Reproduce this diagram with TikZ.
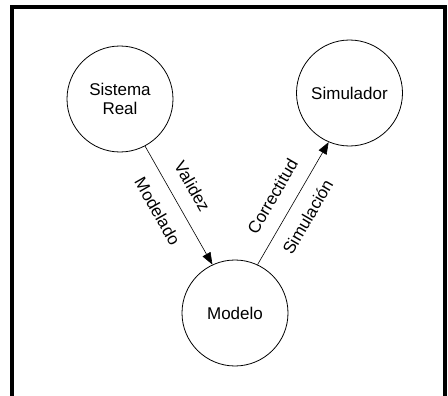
\documentclass[tikz,border=0pt]{standalone}
\usepackage{fontspec}
\setmainfont{Liberation Sans}
\usepackage{tikz}
\usetikzlibrary{arrows.meta,positioning}
\tikzset{
  estado/.style={circle, draw=black, line width=0.8pt, minimum size=106pt, inner sep=0pt, align=center, font=\fontsize{17}{19}\selectfont},
  flow/.style={line width=0.6pt, -{Triangle[length=12pt,width=9pt]}},
  etiq/.style={font=\fontsize{17}{19}\selectfont, sloped, inner sep=5.7pt},
  marco/.style={line width=4pt},
}
\begin{document}
\begin{tikzpicture}[x=1pt,y=-1pt]
  \useasboundingbox (0,0) rectangle (448,396);
  \draw[marco] (12,396) -- (12,7) -- (445,7) -- (445,396);
  \node[estado] (sr) at (120,99) {Sistema\\Real};
  \node[estado] (sim) at (349.5,93) {Simulador};
  \node[estado] (mod) at (235,313) {Modelo};
  \draw[flow] (sr.-62) -- (mod.115)
    node[etiq, pos=0.43, above=9pt] {Validez}
    node[etiq, pos=0.46, below=9pt] {Modelado};
  \draw[flow] (mod.65) -- (sim.247)
    node[etiq, pos=0.47, above=9pt] {Correctitud}
    node[etiq, pos=0.47, below=7pt] {Simulación};
\end{tikzpicture}
\end{document}
